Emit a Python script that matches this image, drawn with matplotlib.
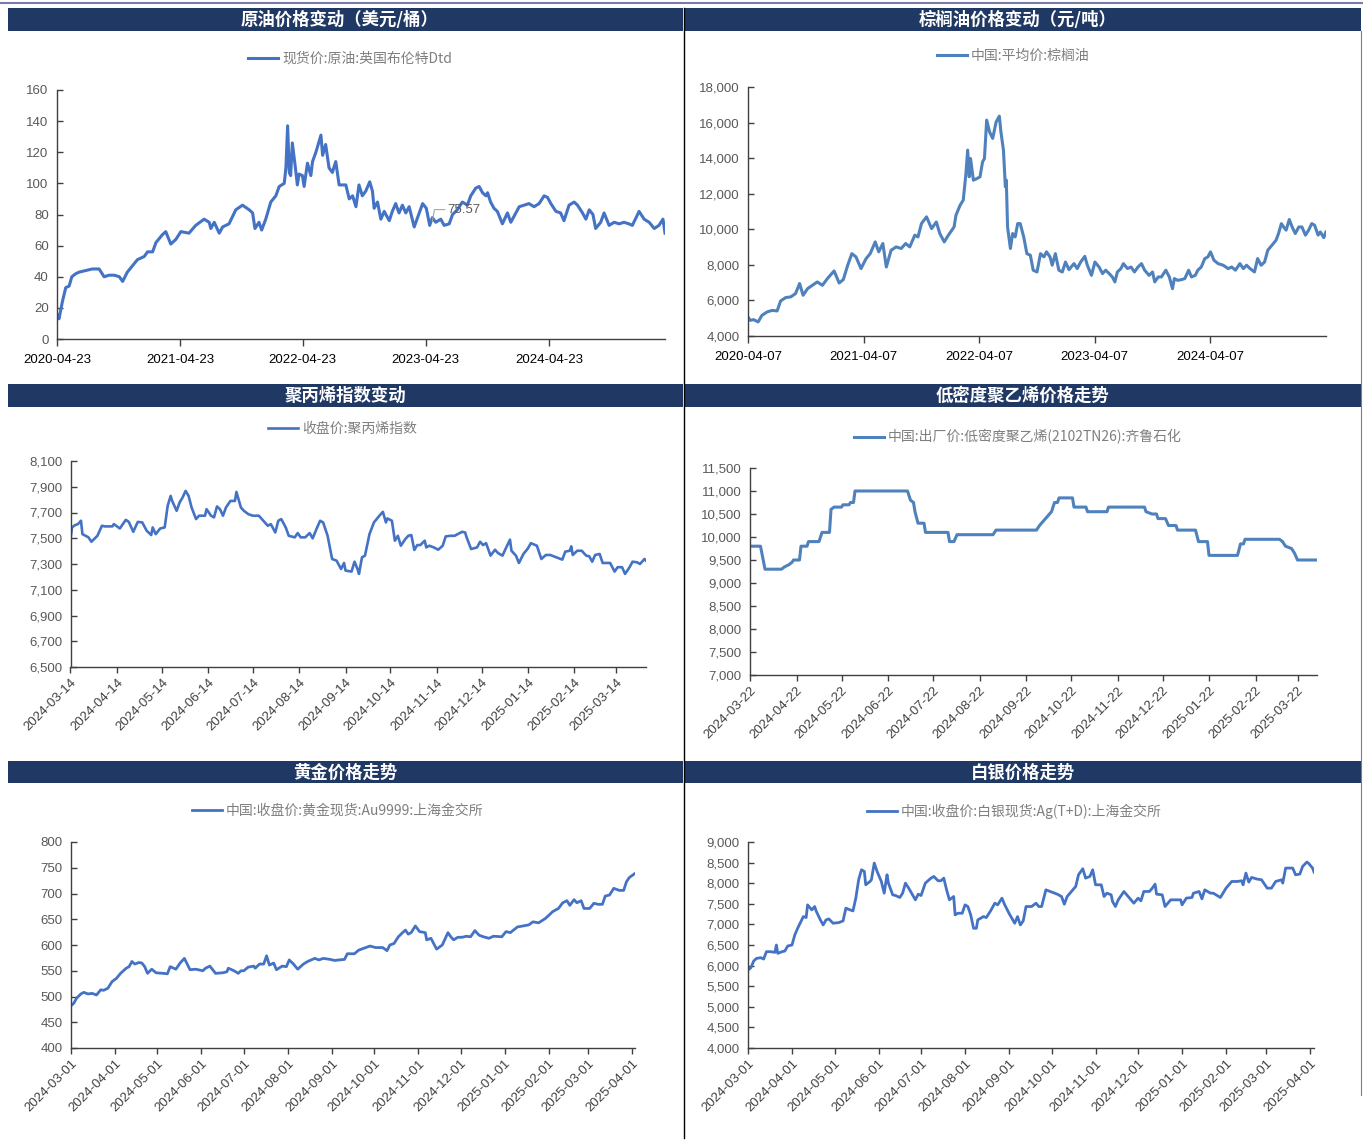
import numpy as np
import matplotlib
matplotlib.use("Agg")
import matplotlib.pyplot as plt
from matplotlib.patches import Rectangle
from matplotlib.lines import Line2D
from matplotlib.font_manager import FontProperties
from matplotlib.ticker import FuncFormatter

plt.rcParams['font.family'] = ['Liberation Sans', 'Noto Sans CJK SC', 'DejaVu Sans']

# ---------------- data ----------------
# crude oil (days since start date)
oil_start = '2020-04-23'
oil_days = [0, 6, 16, 26, 36, 44, 56, 66, 86, 105, 125, 140, 155, 170, 185, 195, 209, 224, 239, 259,
            269, 284, 294, 313, 323, 338, 353, 368, 392, 412, 437, 452, 457, 467, 482, 492, 511, 531, 551, 571,
            581, 588, 600, 608, 620, 635, 650, 660, 675, 680, 685, 690, 694, 699, 707, 714, 719, 729, 734, 744,
            754, 759, 769, 784, 789, 798, 808, 818, 828, 838, 858, 868, 878, 888, 897, 907, 917, 929, 937, 942,
            952, 962, 972, 987, 996, 1006, 1016, 1026, 1036, 1046, 1061, 1071, 1086, 1097, 1107, 1115, 1125, 1140, 1150, 1165,
            1175, 1189, 1204, 1219, 1229, 1244, 1254, 1264, 1274, 1279, 1288, 1298, 1308, 1323, 1338, 1348, 1363, 1373, 1387, 1402,
            1417, 1432, 1447, 1457, 1467, 1482, 1496, 1506, 1521, 1536, 1546, 1561, 1571, 1581, 1592, 1600, 1615, 1625, 1640, 1655,
            1670, 1684, 1699, 1709, 1729, 1744, 1759, 1774, 1788, 1800, 1806]
oil_vals = [16, 13, 24, 33, 34, 40, 42, 43, 44, 45, 45, 40, 41, 41, 40, 37, 43, 47, 51, 53,
            56, 56, 62, 67, 69, 61, 64, 69, 68, 73, 77, 75, 71, 75, 68, 72, 74, 83, 86, 83,
            81, 71, 75, 70, 77, 88, 92, 98, 100, 110, 137, 107, 105, 126, 112, 99, 106, 105, 98, 113,
            105, 114, 120, 131, 118, 125, 110, 107, 114, 99, 99, 90, 92, 85, 99, 92, 95, 101, 95, 84,
            88, 77, 82, 76, 82, 87, 81, 86, 81, 85, 72, 78, 87, 84, 73, 78, 75, 77, 73, 74,
            80, 83, 88, 86, 92, 97, 98, 94, 92, 94, 88, 84, 82, 74, 81, 75, 81, 85, 86, 87,
            85, 87, 92, 91, 87, 82, 81, 76, 86, 88, 86, 81, 77, 83, 80, 71, 75, 81, 73, 75,
            74, 75, 74, 73, 82, 77, 75, 71, 73, 77, 68]
oil_label_day = 1115
oil_label_value = 75.57
oil_ticks = ['2020-04-23', '2021-04-23', '2022-04-23', '2023-04-23', '2024-04-23']

# palm oil
palm_start = '2020-04-07'
palm_days = [0, 7, 18, 32, 44, 60, 76, 92, 103, 119, 135, 150, 163, 174, 188, 203, 219, 235, 251, 272,
             288, 301, 315, 328, 341, 357, 373, 386, 402, 413, 426, 437, 452, 468, 484, 498, 511, 527, 537, 548,
             564, 580, 595, 606, 620, 633, 651, 657, 670, 680, 688, 694, 699, 703, 712, 723, 733, 741, 747, 754,
             763, 773, 784, 794, 799, 807, 813, 816, 820, 829, 836, 844, 852, 860, 871, 881, 892, 901, 913, 924,
             935, 943, 954, 961, 971, 982, 993, 1003, 1014, 1030, 1040, 1051, 1064, 1072, 1085, 1096, 1109, 1120, 1130, 1141,
             1151, 1159, 1167, 1178, 1186, 1199, 1210, 1221, 1232, 1243, 1253, 1267, 1278, 1285, 1296, 1306, 1320, 1331, 1341, 1347,
             1357, 1370, 1380, 1392, 1401, 1413, 1421, 1432, 1443, 1453, 1461, 1472, 1485, 1501, 1517, 1528, 1540, 1554, 1565, 1575,
             1586, 1600, 1610, 1621, 1632, 1642, 1655, 1668, 1676, 1685, 1692, 1700, 1710, 1719, 1729, 1740, 1750, 1761, 1771, 1781,
             1790, 1801, 1808, 1819, 1826]
palm_vals = [5070, 4880, 4920, 4790, 5160, 5350, 5440, 5410, 5970, 6160, 6200, 6380, 6950, 6290, 6660, 6850, 7040, 6850, 7230, 7660,
             6980, 7170, 7980, 8630, 8450, 7790, 8350, 8630, 9290, 8730, 9200, 7880, 8820, 9010, 8920, 9200, 9010, 9670, 9570, 10320,
             10700, 10040, 10410, 9760, 9290, 9670, 10130, 10790, 11350, 11640, 13040, 14450, 12950, 13980, 12760, 12850, 12950, 13790, 13980, 16140,
             15480, 15110, 16040, 16360, 15480, 14450, 12390, 12760, 10130, 8920, 9760, 9570, 10320, 10320, 9570, 8630, 8540, 7700, 7600, 8630,
             8450, 8730, 8450, 7980, 8630, 7700, 7600, 8160, 7730, 8070, 7790, 8160, 8480, 7980, 7410, 8160, 7880, 7510, 7700, 7510,
             7320, 7040, 7600, 7790, 8070, 7790, 7880, 7600, 7880, 8070, 7700, 7410, 7600, 7040, 7320, 7320, 7700, 7320, 6660, 7230,
             7130, 7170, 7230, 7700, 7320, 7410, 7700, 7880, 8350, 8450, 8730, 8260, 8070, 7980, 7790, 7880, 7700, 8070, 7790, 7980,
             7790, 7600, 8350, 7980, 8160, 8820, 9100, 9380, 9760, 10320, 10130, 9950, 10550, 10130, 9760, 10130, 10130, 9670, 9950, 10320,
             10230, 9670, 9850, 9530, 9850]
palm_ticks = ['2020-04-07', '2021-04-07', '2022-04-07', '2023-04-07', '2024-04-07']

# polypropylene index
pp_start = '2024-03-14'
pp_days = [0, 1, 3, 5, 7, 8, 12, 14, 18, 21, 23, 28, 29, 33, 35, 37, 39, 42, 45, 48,
           51, 54, 55, 57, 60, 63, 65, 67, 68, 71, 73, 75, 77, 79, 81, 84, 86, 90, 91, 94,
           96, 98, 100, 102, 104, 107, 110, 111, 114, 116, 119, 122, 126, 129, 132, 134, 137, 139, 141, 144,
           146, 150, 152, 154, 157, 160, 162, 165, 167, 169, 172, 175, 178, 181, 183, 184, 188, 190, 192, 193,
           195, 197, 200, 203, 207, 209, 211, 212, 215, 217, 219, 221, 224, 226, 228, 230, 232, 234, 237, 238,
           240, 243, 246, 249, 251, 254, 257, 259, 262, 264, 265, 268, 272, 274, 276, 278, 281, 284, 286, 289,
           291, 294, 295, 298, 300, 303, 306, 308, 312, 315, 318, 321, 325, 329, 331, 334, 335, 336, 339, 342,
           345, 347, 349, 351, 354, 356, 361, 364, 366, 369, 371, 374, 376, 379, 381, 384, 385]
pp_vals = [7494, 7584, 7602, 7610, 7636, 7532, 7507, 7473, 7519, 7597, 7592, 7592, 7610, 7576, 7610, 7643, 7627, 7550, 7627, 7623,
           7558, 7525, 7584, 7532, 7576, 7584, 7752, 7829, 7790, 7713, 7778, 7817, 7868, 7829, 7739, 7649, 7675, 7675, 7726, 7675,
           7662, 7747, 7726, 7675, 7739, 7790, 7790, 7860, 7739, 7713, 7687, 7675, 7675, 7636, 7597, 7610, 7545, 7636, 7649, 7584,
           7519, 7507, 7540, 7507, 7507, 7540, 7499, 7584, 7636, 7623, 7519, 7339, 7326, 7261, 7308, 7249, 7241, 7318, 7261, 7223,
           7352, 7365, 7532, 7623, 7680, 7705, 7623, 7654, 7636, 7481, 7519, 7442, 7494, 7519, 7525, 7409, 7447, 7447, 7481, 7429,
           7442, 7429, 7411, 7442, 7514, 7519, 7519, 7532, 7550, 7545, 7507, 7416, 7429, 7473, 7447, 7462, 7365, 7411, 7385, 7365,
           7416, 7489, 7403, 7365, 7308, 7378, 7421, 7462, 7442, 7339, 7370, 7370, 7352, 7334, 7396, 7403, 7437, 7370, 7403, 7403,
           7365, 7360, 7318, 7370, 7378, 7308, 7308, 7241, 7275, 7275, 7223, 7275, 7318, 7313, 7300, 7339, 7326]
pp_ticks = ['2024-03-14', '2024-04-14', '2024-05-14', '2024-06-14', '2024-07-14', '2024-08-14', '2024-09-14',
            '2024-10-14', '2024-11-14', '2024-12-14', '2025-01-14', '2025-02-14', '2025-03-14']

# LDPE
pe_start = '2024-03-22'
pe_days = [0, 7, 10, 21, 23, 26, 28, 29, 33, 34, 38, 39, 46, 47, 48, 53, 54, 56, 61, 62,
           66, 67, 69, 70, 105, 107, 109, 110, 112, 116, 117, 132, 133, 136, 138, 162, 164, 191, 193, 197,
           201, 203, 205, 206, 215, 216, 224, 225, 238, 239, 263, 264, 268, 271, 272, 277, 279, 284, 285, 297,
           299, 305, 306, 325, 327, 329, 330, 353, 355, 357, 361, 363, 365, 378]
pe_vals = [9800, 9800, 9300, 9300, 9350, 9400, 9450, 9500, 9500, 9800, 9800, 9900, 9900, 10000, 10100, 10100, 10600, 10650, 10650, 10700,
           10700, 10750, 10750, 11000, 11000, 10800, 10750, 10550, 10300, 10300, 10100, 10100, 9900, 9900, 10050, 10050, 10150, 10150, 10250, 10400,
           10550, 10750, 10750, 10850, 10850, 10650, 10650, 10550, 10550, 10650, 10650, 10550, 10500, 10500, 10400, 10400, 10250, 10250, 10150, 10150,
           9900, 9900, 9600, 9600, 9850, 9850, 9950, 9950, 9900, 9800, 9750, 9650, 9500, 9500]
pe_ticks = ['2024-03-22', '2024-04-22', '2024-05-22', '2024-06-22', '2024-07-22', '2024-08-22', '2024-09-22',
            '2024-10-22', '2024-11-22', '2024-12-22', '2025-01-22', '2025-02-22', '2025-03-22']

# gold
gold_start = '2024-03-01'
gold_days = [0, 2, 4, 7, 9, 12, 15, 18, 21, 23, 26, 29, 32, 35, 39, 41, 43, 45, 48, 50,
             52, 54, 57, 60, 65, 68, 70, 74, 77, 80, 84, 88, 93, 95, 98, 102, 107, 110, 111, 115,
             118, 120, 122, 125, 129, 130, 133, 136, 138, 140, 143, 145, 149, 152, 154, 157, 160, 164, 167, 172,
             175, 178, 183, 186, 189, 193, 195, 200, 203, 207, 211, 215, 220, 223, 225, 228, 231, 234, 236, 238,
             240, 243, 246, 250, 251, 254, 258, 262, 266, 268, 270, 273, 276, 279, 282, 285, 288, 291, 295, 298,
             304, 307, 310, 315, 319, 323, 326, 330, 335, 340, 344, 347, 350, 352, 355, 357, 360, 362, 366, 369,
             372, 375, 377, 380, 383, 387, 390, 392, 394, 396, 398]
gold_vals = [482, 487, 497, 505, 508, 505, 506, 503, 513, 512, 516, 529, 535, 545, 555, 558, 568, 563, 566, 565,
             558, 545, 553, 546, 545, 544, 558, 553, 565, 574, 552, 553, 550, 555, 559, 545, 546, 548, 555, 550,
             545, 550, 550, 557, 559, 555, 563, 563, 579, 561, 565, 552, 559, 558, 571, 563, 553, 563, 568, 574,
             571, 574, 572, 570, 571, 572, 583, 583, 590, 594, 598, 595, 595, 589, 600, 603, 616, 624, 629, 621,
             624, 637, 626, 624, 610, 613, 592, 600, 624, 616, 610, 615, 615, 617, 616, 628, 619, 616, 613, 617,
             616, 626, 624, 635, 637, 639, 645, 643, 652, 665, 671, 682, 686, 677, 688, 682, 686, 671, 671, 681,
             679, 679, 695, 697, 710, 706, 706, 723, 731, 735, 739]
gold_ticks = ['2024-03-01', '2024-04-01', '2024-05-01', '2024-06-01', '2024-07-01', '2024-08-01', '2024-09-01',
              '2024-10-01', '2024-11-01', '2024-12-01', '2025-01-01', '2025-02-01', '2025-03-01', '2025-04-01']

# silver
silver_start = '2024-03-01'
silver_days = [0, 2, 4, 6, 9, 11, 13, 16, 19, 20, 21, 24, 26, 28, 31, 33, 35, 39, 41, 42,
               45, 47, 48, 51, 53, 55, 57, 60, 64, 67, 69, 72, 74, 76, 78, 80, 82, 83, 86, 87,
               89, 91, 94, 96, 98, 99, 102, 104, 107, 109, 111, 113, 116, 118, 120, 122, 125, 129, 131, 134,
               136, 138, 140, 142, 145, 146, 148, 151, 153, 155, 157, 159, 161, 162, 166, 168, 171, 174, 176, 179,
               181, 184, 186, 188, 190, 192, 194, 196, 200, 203, 205, 207, 210, 213, 218, 221, 223, 225, 228, 231,
               233, 236, 238, 241, 243, 245, 249, 251, 253, 256, 257, 259, 261, 265, 267, 270, 272, 275, 277, 279,
               283, 285, 287, 288, 292, 294, 298, 301, 305, 306, 309, 313, 314, 318, 320, 322, 326, 328, 333, 337,
               341, 345, 348, 349, 351, 353, 355, 359, 362, 366, 369, 372, 376, 377, 379, 381, 384, 386, 389, 391,
               394, 395, 398, 399]
silver_vals = [5891, 5948, 6110, 6175, 6192, 6159, 6338, 6338, 6321, 6500, 6297, 6338, 6354, 6476, 6500, 6744, 6906, 7190, 7166, 7474,
               7352, 7434, 7328, 7109, 6987, 7109, 7133, 7028, 7044, 7084, 7393, 7352, 7328, 7637, 8083, 8326, 8286, 7961, 8042, 8083,
               8489, 8286, 8042, 7758, 8205, 8002, 7718, 7701, 7653, 7758, 8002, 7896, 7718, 7596, 7734, 7701, 8002, 8123, 8164, 8059,
               8059, 8123, 7839, 7596, 7677, 7231, 7271, 7271, 7474, 7434, 7231, 6906, 6906, 7109, 7190, 7166, 7328, 7515, 7474, 7637,
               7474, 7271, 7150, 7028, 7190, 6987, 7084, 7434, 7434, 7515, 7434, 7434, 7839, 7799, 7734, 7677, 7490, 7677, 7799, 7920,
               8205, 8351, 8123, 8164, 8326, 7961, 7961, 7677, 7758, 7718, 7555, 7434, 7596, 7799, 7718, 7596, 7515, 7637, 7572, 7799,
               7799, 7880, 7977, 7734, 7718, 7434, 7596, 7596, 7596, 7474, 7637, 7653, 7758, 7799, 7620, 7839, 7758, 7758, 7653, 7880,
               8042, 8042, 8059, 7961, 8245, 8026, 8140, 8099, 8083, 7880, 7880, 8042, 8083, 8002, 8367, 8367, 8367, 8205, 8221, 8408,
               8513, 8489, 8367, 8270]
silver_ticks = gold_ticks

titles = ['原油价格变动（美元/桶）', '棕榈油价格变动（元/吨）', '聚丙烯指数变动',
          '低密度聚乙烯价格走势', '黄金价格走势', '白银价格走势']
legends = ['现货价:原油:英国布伦特Dtd', '中国:平均价:棕榈油', '收盘价:聚丙烯指数',
           '中国:出厂价:低密度聚乙烯(2102TN26):齐鲁石化', '中国:收盘价:黄金现货:Au9999:上海金交所',
           '中国:收盘价:白银现货:Ag(T+D):上海金交所']

# ---------------- layout ----------------
W, H = 1363, 1143
fig = plt.figure(figsize=(W / 100, H / 100), dpi=100)
fig.patch.set_facecolor('white')

NAVY = '#203864'
BLUE = '#4472C4'
BLUE2 = '#4F81BD'
AXC = '#404040'
LBL = '#404040'


def rect(l, r, t, b):
    return [l / W, 1 - b / H, (r - l) / W, (b - t) / H]


def fx(x):
    return x / W


def fy(y):
    return 1 - y / H


# decorative frame
fig.add_artist(Line2D([0, 1], [fy(3), fy(3)], color='#7a7aa8', lw=1.5))
fig.add_artist(Line2D([fx(683.5), fx(683.5)], [fy(8), fy(1138)], color='#000000', lw=1.0))
fig.add_artist(Line2D([fx(1360.5), fx(1360.5)], [fy(31), fy(1095)], color='#7f7f7f', lw=0.8))

bars = [(8, 683, 8, 31), (684, 1361, 8, 31), (8, 683, 384, 407), (684, 1361, 384, 407),
        (8, 683, 761, 783), (684, 1361, 761, 783)]
title_cx = [340, 1018, 345, 1022, 345, 1023]
for (l, r, t, b), cx, ttl in zip(bars, title_cx, titles):
    fig.add_artist(Rectangle((fx(l), fy(b)), (r - l) / W, (b - t) / H, facecolor=NAVY,
                             edgecolor='none', transform=fig.transFigure))
    fig.text(fx(cx), fy((t + b) / 2 + 0.5), ttl, color='white', fontsize=12.5, fontweight='bold',
             family=['Noto Sans CJK SC', 'DejaVu Sans'], ha='center', va='center')

legend_pos = [(248, 59), (937, 56), (268, 429), (854, 437), (192, 811), (867, 811)]

panels = [
    dict(rect=rect(57, 665, 90, 339), start=oil_start, days=oil_days, vals=oil_vals, ticks=oil_ticks,
         ylim=(0, 160), ystep=20, color=BLUE, lw=2.2, rot=False, comma=False),
    dict(rect=rect(748, 1326, 87, 336), start=palm_start, days=palm_days, vals=palm_vals, ticks=palm_ticks,
         ylim=(4000, 18000), ystep=2000, color=BLUE2, lw=2.2, rot=False, comma=True),
    dict(rect=rect(70.5, 646, 461, 667), start=pp_start, days=pp_days, vals=pp_vals, ticks=pp_ticks,
         ylim=(6500, 8100), ystep=200, color=BLUE, lw=1.9, rot=True, comma=True),
    dict(rect=rect(750, 1317, 468, 675), start=pe_start, days=pe_days, vals=pe_vals, ticks=pe_ticks,
         ylim=(7000, 11500), ystep=500, color=BLUE2, lw=2.2, rot=True, comma=True),
    dict(rect=rect(71, 635, 842, 1048), start=gold_start, days=gold_days, vals=gold_vals, ticks=gold_ticks,
         ylim=(400, 800), ystep=50, color=BLUE, lw=2.0, rot=True, comma=False),
    dict(rect=rect(748, 1314, 842, 1048), start=silver_start, days=silver_days, vals=silver_vals, ticks=silver_ticks,
         ylim=(4000, 9000), ystep=500, color=BLUE, lw=2.0, rot=True, comma=True),
]

leg_font = FontProperties(family=['Noto Sans CJK SC', 'DejaVu Sans'], size=10)
axes = []
for i, p in enumerate(panels):
    ax = fig.add_axes(p['rect'])
    axes.append(ax)
    dates = np.datetime64(p['start']) + np.array(p['days']).astype('timedelta64[D]')
    ln, = ax.plot(dates, p['vals'], color=p['color'], lw=p['lw'], solid_joinstyle='round')
    ax.set_xlim(dates[0], dates[-1])
    ax.set_ylim(*p['ylim'])
    ax.set_yticks(np.arange(p['ylim'][0], p['ylim'][1] + 1, p['ystep']))
    if p['comma']:
        ax.yaxis.set_major_formatter(FuncFormatter(lambda v, pos: f'{v:,.0f}'))
    else:
        ax.yaxis.set_major_formatter(FuncFormatter(lambda v, pos: f'{v:.0f}'))
    tdates = np.array(p['ticks'], dtype='datetime64[D]')
    ax.set_xticks(tdates)
    if p['rot']:
        ax.set_xticklabels(p['ticks'], rotation=45, ha='right', va='top', rotation_mode='anchor')
        ax.tick_params(axis='x', labelsize=9.5, colors=AXC, labelcolor=LBL, direction='out', length=4, width=1, pad=3)
    else:
        ax.set_xticklabels(p['ticks'])
        ax.tick_params(axis='x', labelsize=9.5, colors=AXC, labelcolor='#000000', direction='out', length=5, width=1, pad=6)
    ax.tick_params(axis='y', labelsize=9.5, colors=AXC, labelcolor='#595959', direction='in', length=4, width=1, pad=6)
    for s in ['top', 'right']:
        ax.spines[s].set_visible(False)
    for s in ['left', 'bottom']:
        ax.spines[s].set_color(AXC)
        ax.spines[s].set_linewidth(1.0)
    ax.patch.set_alpha(0)
    lx, ly = legend_pos[i]
    ax.legend([ln], [legends[i]], loc='center left', bbox_to_anchor=(fx(lx), fy(ly)),
              bbox_transform=fig.transFigure, frameon=False, prop=leg_font, labelcolor='#7f7f7f',
              handlelength=2.15, handletextpad=0.3, borderpad=0, borderaxespad=0)

# data label on crude oil chart
ax0 = axes[0]
lab_date = np.datetime64(oil_start) + np.timedelta64(oil_label_day, 'D')
ax0.annotate(f'{oil_label_value:.2f}', xy=(lab_date, oil_label_value), xytext=(11, 8.5),
             textcoords='offset points', fontsize=9.5, color='#595959', va='center', ha='left',
             arrowprops=dict(arrowstyle='-', color='#a6a6a6', lw=0.8, shrinkA=0, shrinkB=0,
                             relpos=(0, 0.5), connectionstyle='angle,angleA=0,angleB=80,rad=0'))

fig.savefig('out.png', dpi=100, facecolor='white')
